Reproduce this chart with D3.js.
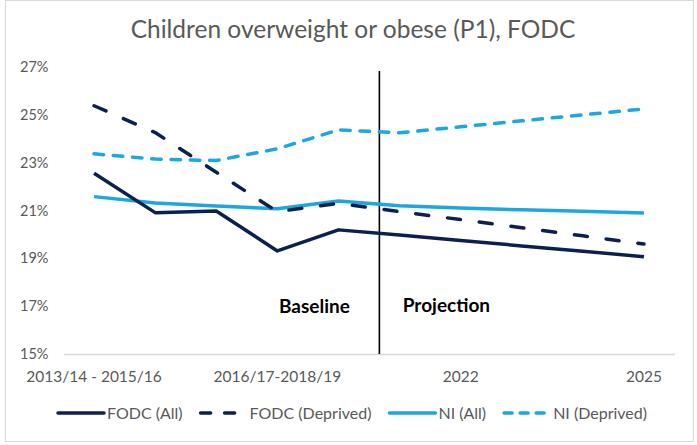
<!DOCTYPE html>
<html>
<head>
<meta charset="utf-8">
<script src="https://cdn.jsdelivr.net/npm/d3@7"></script>
<style>
  body { margin: 0; background: #fff; }
  text { font-family: Lato, "Open Sans", sans-serif; }
</style>
</head>
<body>
<div id="chart"></div>
<script>
// chart values
var categories = [
  "2013/14 - 2015/16", "2014/15-2016/17", "2015/16-2017/18", "2016/17-2018/19",
  "2017/18-2019/20", "2021", "2022", "2023", "2024", "2025"
];
var shownLabels = ["2013/14 - 2015/16", "2016/17-2018/19", "2022", "2025"];
var fodcAll      = [22.56, 20.91, 20.98, 19.31, 20.19, 19.98, 19.75, 19.52, 19.30, 19.07];
var fodcDeprived = [25.38, 24.26, 22.60, 20.95, 21.30, 20.95, 20.62, 20.28, 19.94, 19.60];
var niAll        = [21.58, 21.31, 21.19, 21.07, 21.40, 21.20, 21.10, 21.03, 20.97, 20.90];
var niDeprived   = [23.37, 23.15, 23.09, 23.58, 24.37, 24.25, 24.50, 24.75, 25.00, 25.25];
var yTicks = [15, 17, 19, 21, 23, 25, 27];

var W = 697, H = 445;
var navy  = "#0c2050";
var light = "#1ca7e2";

var svg = d3.select("#chart").append("svg")
    .attr("width", W)
    .attr("height", H);

// outer frame
svg.append("rect")
    .attr("x", 5.5).attr("y", 0.5)
    .attr("width", 688).attr("height", 441)
    .attr("fill", "#fff")
    .attr("stroke", "#d9d9d9");

svg.append("text")
    .attr("x", 353).attr("y", 38)
    .attr("text-anchor", "middle")
    .attr("font-size", "24.5px")
    .attr("fill", "#595959")
    .text("Children overweight or obese (P1), FODC");

var x = d3.scaleBand()
    .domain(categories)
    .range([63.5, 674.5]);

var y = d3.scaleLinear()
    .domain([15, 27])
    .range([354, 67]);

var cx = (d) => x(d) + x.bandwidth() / 2;

// y axis
var yAxis = svg.append("g")
    .attr("transform", "translate(63.5,0)")
    .call(d3.axisLeft(y).tickValues(yTicks).tickSize(0).tickPadding(15)
      .tickFormat((d) => d + "%"));
yAxis.select(".domain").remove();
yAxis.selectAll("text")
    .attr("font-size", "14.5px")
    .attr("fill", "#595959")
    .attr("font-family", "Lato, sans-serif");

// x axis
var xAxis = svg.append("g")
    .attr("transform", "translate(0,354)")
    .call(d3.axisBottom(x).tickValues(shownLabels).tickSize(0).tickPadding(17));
xAxis.select(".domain")
    .attr("stroke", "#d9d9d9")
    .attr("stroke-width", 1.5);
xAxis.selectAll("text")
    .attr("font-size", "15.5px")
    .attr("fill", "#595959")
    .attr("font-family", "Lato, sans-serif");

// baseline / projection divider
var dividerX = cx(categories[4]) + x.step() * 0.67;
svg.append("line")
    .attr("x1", dividerX).attr("x2", dividerX)
    .attr("y1", 71).attr("y2", 354)
    .attr("stroke", "#000")
    .attr("stroke-width", 1.6);

svg.append("text")
    .attr("x", dividerX - 65).attr("y", 313)
    .attr("text-anchor", "middle")
    .attr("font-size", "19px")
    .attr("font-weight", "bold")
    .attr("fill", "#000")
    .text("Baseline");

svg.append("text")
    .attr("x", dividerX + 67).attr("y", 312)
    .attr("text-anchor", "middle")
    .attr("font-size", "19px")
    .attr("font-weight", "bold")
    .attr("fill", "#000")
    .text("Projection");

var series = [
  { name: "FODC (All)",      values: fodcAll,      color: navy,  dash: null },
  { name: "FODC (Deprived)", values: fodcDeprived, color: navy,  dash: "13,19" },
  { name: "NI (All)",        values: niAll,        color: light, dash: null },
  { name: "NI (Deprived)",   values: niDeprived,   color: light, dash: "9.5,9.8" }
];

var line = d3.line()
    .x((d, i) => cx(categories[i]))
    .y((d) => y(d));

// light ones first, navy on top
[3, 2, 1, 0].map((k) => {
  var s = series[k];
  svg.append("path")
      .attr("d", line(s.values))
      .attr("fill", "none")
      .attr("stroke", s.color)
      .attr("stroke-width", 3.5)
      .attr("stroke-linecap", s.dash ? "round" : "butt")
      .attr("stroke-linejoin", "round")
      .attr("stroke-dasharray", s.dash);
});

// legend
var lx = 56, ly = 413;
series.map((s) => {
  svg.append("line")
      .attr("x1", lx + 2).attr("x2", lx + 48)
      .attr("y1", ly).attr("y2", ly)
      .attr("stroke", s.color)
      .attr("stroke-width", 3.5)
      .attr("stroke-linecap", "round")
      .attr("stroke-dasharray", s.dash ? (s.dash == "13,19" ? "10,14" : "8,8") : null);
  var t = svg.append("text")
      .attr("x", lx + 51).attr("y", ly + 5.5)
      .attr("font-size", "16px")
      .attr("fill", "#595959")
      .text(s.name);
  lx += 51 + t.node().getComputedTextLength() + 16;
});
</script>
</body>
</html>
